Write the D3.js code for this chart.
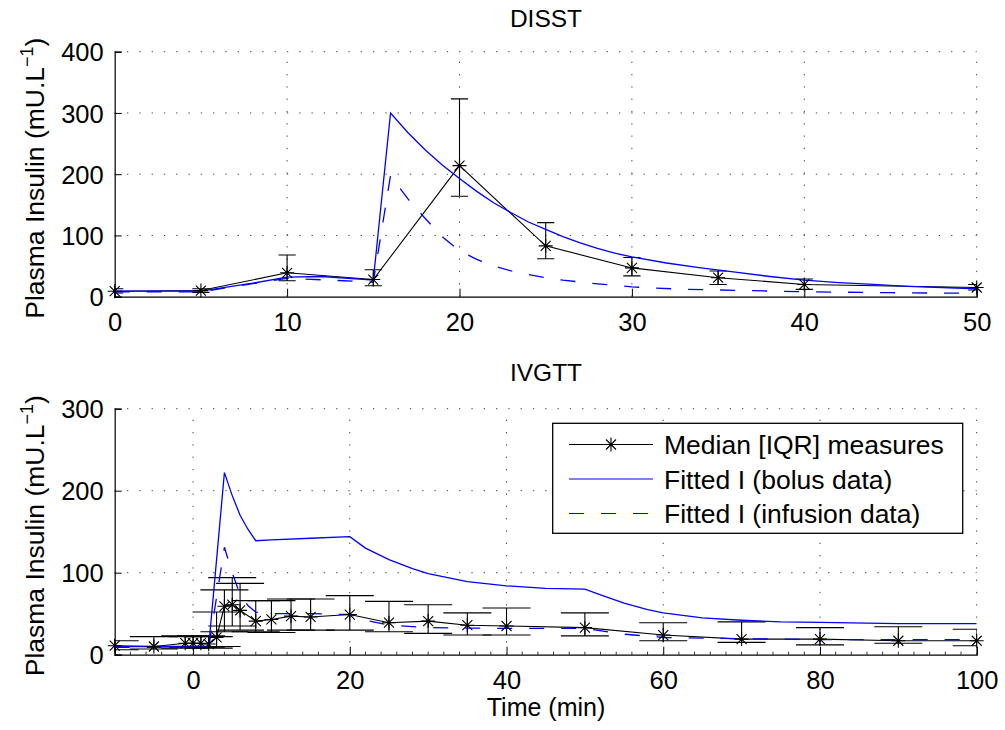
<!DOCTYPE html>
<html>
<head>
<meta charset="utf-8">
<script src="https://cdn.jsdelivr.net/npm/d3@7"></script>
<style>
  body { margin: 0; background: #fff; }
  svg { font-family: "Liberation Sans", Arial, Helvetica, sans-serif; }
</style>
</head>
<body>
<div id="chart"></div>
<script>
// ---- DISST panel ----
const disstTime   = [0, 5, 10, 15, 20, 25, 30, 35, 40, 50];
const disstMedian = [9, 10, 39, 28, 214, 83, 47, 31, 20, 15];
const disstLow    = [6, 7, 26, 18, 164, 62, 34, 20, 12, 11];
const disstHigh   = [13, 13, 68, 44, 323, 121, 64, 42, 29, 20];

const disstBolusTime = [0, 5, 8, 10, 12, 15, 16, 17, 18, 19, 20, 21, 22, 23, 24, 25, 26, 27, 28, 29, 30, 32, 34, 36, 38, 40, 42, 44, 46, 48, 50];
const disstBolus     = [9, 9, 22, 32, 33, 27, 300, 268, 240, 215, 193, 172, 153, 137, 122, 110, 98, 88, 79, 71, 65, 55, 47, 40, 33, 27, 23, 20, 17, 15, 13];

const disstInfTime = [0, 5, 10, 15, 16, 17, 18, 19, 20, 21, 22, 23, 24, 25, 26, 28, 30, 33, 35, 40, 45, 50];
const disstInf     = [8, 8, 30, 24, 198, 160, 128, 98, 75, 61, 50, 42, 36, 31, 27, 21, 16, 12, 11, 8, 6.5, 5.5];

// ---- IVGTT panel ----
const ivgttTime   = [-10, -5, -1, 0, 1, 2, 3, 4, 5, 6, 8, 10, 12.5, 15, 20, 25, 30, 35, 40, 50, 60, 70, 80, 90, 100];
const ivgttMedian = [11, 10, 14, 14, 14, 13, 21, 59, 61, 54, 41, 43, 47, 46, 49, 39, 41, 36, 35, 33, 24, 19, 19, 17, 17];
const ivgttLow    = [6, 7, 8, 9, 9, 8, 10, 28, 35, 30, 28, 27, 30, 30, 30, 28, 26, 24, 24, 23, 17, 15, 12, 14, 11];
const ivgttHigh   = [17, 22, 23, 22, 23, 22, 52, 79, 94, 87, 66, 66, 68, 68, 72, 65, 61, 51, 57, 51, 39, 40, 33, 34, 31];

const ivgttBolusTime = [-10, -5, 0, 1, 2, 4, 5, 6, 7, 8, 10, 15, 20, 22, 25, 28, 30, 35, 40, 45, 50, 52, 55, 58, 60, 65, 70, 75, 80, 90, 100];
const ivgttBolus     = [10, 10, 10, 10, 10, 222, 194, 170, 153, 139, 140, 142, 144, 130, 116, 105, 99, 89, 84, 81, 80, 73, 63, 55, 51, 45, 42, 40, 39.5, 38, 38];

const ivgttInfTime = [-10, -5, 0, 1, 2, 4, 5, 6, 7, 8, 10, 15, 20, 22, 25, 30, 40, 50, 55, 60, 70, 80, 90, 100];
const ivgttInf     = [9, 9, 9, 9, 9, 131, 100, 73, 60, 52, 50, 50, 49, 42, 36, 33, 32, 32, 25, 21, 19.5, 18.5, 18.5, 18.5];

const legendLabels = ["Median [IQR] measures", "Fitted I (bolus data)", "Fitted I (infusion data)"];

const W = 1005, H = 730;
const blue = "#0000ff";
const starPath = "M-7,0H7M0,-7V7M-5,-5L5,5M-5,5L5,-5";

const svg = d3.select("#chart").append("svg")
    .attr("width", W)
    .attr("height", H);

function drawPanel(cfg) {
    const x = d3.scaleLinear().domain(cfg.xDomain).range([114.7, 976.7]);
    const y = d3.scaleLinear().domain(cfg.yDomain).range([cfg.bottom, cfg.top]);
    const g = svg.append("g");

    const clipId = "clip-" + cfg.id;
    svg.append("clipPath").attr("id", clipId)
        .append("rect")
        .attr("x", x.range()[0]).attr("y", cfg.top)
        .attr("width", x.range()[1] - x.range()[0])
        .attr("height", cfg.bottom - cfg.top);

    // dotted grid
    g.selectAll(".vgrid")
        .data(cfg.xTicks.filter(d => d !== cfg.xDomain[0]))
        .join("line")
        .attr("x1", d => x(d)).attr("x2", d => x(d))
        .attr("y1", cfg.bottom).attr("y2", cfg.top)
        .attr("stroke", "#444").attr("stroke-width", 1)
        .attr("stroke-dasharray", "1.3 11");
    g.selectAll(".hgrid")
        .data(cfg.yTicks.filter(d => d !== cfg.yDomain[0]))
        .join("line")
        .attr("x1", x.range()[0]).attr("x2", x.range()[1])
        .attr("y1", d => y(d)).attr("y2", d => y(d))
        .attr("stroke", "#444").attr("stroke-width", 1)
        .attr("stroke-dasharray", "1.3 11");

    // axes (ticks pointing inward)
    const xAxis = d3.axisBottom(x).tickValues(cfg.xTicks).tickSize(-8).tickPadding(16)
        .tickFormat(d => d === cfg.xDomain[0] && cfg.hideFirstX ? "" : d);
    const yAxis = d3.axisLeft(y).tickValues(cfg.yTicks).tickSize(-7).tickPadding(11);

    const gx = g.append("g").attr("transform", `translate(0,${cfg.bottom})`).call(xAxis);
    const gy = g.append("g").attr("transform", `translate(${x.range()[0]},0)`).call(yAxis);
    [gx, gy].forEach(a => {
        a.select(".domain").attr("stroke", "#000").attr("stroke-width", 1.2);
        a.selectAll(".tick line").attr("stroke", "#000");
        a.selectAll(".tick text").attr("fill", "#000").attr("font-size", 25.5);
    });
    gx.selectAll(".tick text").attr("dy", "0.71em");
    gy.selectAll(".tick text").attr("dy", "0.36em");

    if (cfg.minorX) {
        g.selectAll(".minor")
            .data(cfg.minorX)
            .join("line")
            .attr("x1", d => x(d)).attr("x2", d => x(d))
            .attr("y1", cfg.bottom).attr("y2", cfg.bottom - 3)
            .attr("stroke", "#000").attr("stroke-width", 0.8);
    }

    const plot = g.append("g").attr("clip-path", `url(#${clipId})`);

    const line = d3.line().x(d => x(d[0])).y(d => y(d[1]));

    // error bars
    const meas = cfg.time.map((t, i) => ({ t, m: cfg.median[i], lo: cfg.low[i], hi: cfg.high[i] }));
    const cap = cfg.capHalf;
    plot.selectAll(".ebar")
        .data(meas)
        .join("path")
        .attr("d", d => `M${x(d.t)},${y(d.lo)}V${y(d.hi)}` +
            `M${x(d.t) - cap},${y(d.lo)}H${x(d.t) + cap}` +
            `M${x(d.t) - cap},${y(d.hi)}H${x(d.t) + cap}`)
        .attr("fill", "none").attr("stroke", "#000").attr("stroke-width", 1.1);

    plot.append("path")
        .attr("d", line(cfg.time.map((t, i) => [t, cfg.median[i]])))
        .attr("fill", "none").attr("stroke", "#000").attr("stroke-width", 1.1);

    plot.append("path")
        .attr("d", line(cfg.bolusTime.map((t, i) => [t, cfg.bolus[i]])))
        .attr("fill", "none").attr("stroke", blue).attr("stroke-width", 1.3);

    plot.append("path")
        .attr("d", line(cfg.infTime.map((t, i) => [t, cfg.inf[i]])))
        .attr("fill", "none").attr("stroke", blue).attr("stroke-width", 1.3)
        .attr("stroke-dasharray", "15 17");

    g.selectAll(".star")
        .data(meas)
        .join("path")
        .attr("transform", d => `translate(${x(d.t)},${y(d.m)})`)
        .attr("d", starPath)
        .attr("fill", "none").attr("stroke", "#000").attr("stroke-width", 1.1);

    // title and y label
    g.append("text")
        .attr("x", 546).attr("y", cfg.titleY)
        .attr("text-anchor", "middle").attr("font-size", 24.5)
        .text(cfg.title);

    const yl = g.append("text")
        .attr("transform", `translate(44,${(cfg.top + cfg.bottom) / 2 + 4}) rotate(-90)`)
        .attr("text-anchor", "middle").attr("font-size", 26.5);
    yl.append("tspan").text("Plasma Insulin (mU.L");
    yl.append("tspan").attr("font-size", 18).attr("dy", -11).text("\u22121");
    yl.append("tspan").attr("dy", 11).text(")");

    return { x, y, g };
}

drawPanel({
    id: "disst", title: "DISST", titleY: 27,
    top: 51.7, bottom: 296.7,
    xDomain: [0, 50], yDomain: [0, 400],
    xTicks: [0, 10, 20, 30, 40, 50], yTicks: [0, 100, 200, 300, 400],
    capHalf: 8.6,
    time: disstTime, median: disstMedian, low: disstLow, high: disstHigh,
    bolusTime: disstBolusTime, bolus: disstBolus,
    infTime: disstInfTime, inf: disstInf
});

const minorTicks = d3.range(-8, 100, 2).filter(d => d % 20 !== 0);

drawPanel({
    id: "ivgtt", title: "IVGTT", titleY: 381,
    top: 408.7, bottom: 654.7,
    xDomain: [-10, 100], yDomain: [0, 300],
    xTicks: [-10, 0, 20, 40, 60, 80, 100], yTicks: [0, 100, 200, 300],
    hideFirstX: true, minorX: minorTicks,
    capHalf: 24,
    time: ivgttTime, median: ivgttMedian, low: ivgttLow, high: ivgttHigh,
    bolusTime: ivgttBolusTime, bolus: ivgttBolus,
    infTime: ivgttInfTime, inf: ivgttInf
});

svg.append("text")
    .attr("x", 546).attr("y", 716)
    .attr("text-anchor", "middle").attr("font-size", 25)
    .text("Time (min)");

// legend
const lg = svg.append("g");
lg.append("rect")
    .attr("x", 552.7).attr("y", 423.3).attr("width", 410).attr("height", 110)
    .attr("fill", "#fff").attr("stroke", "#000").attr("stroke-width", 1.3);
const rowY = [444.5, 479, 513.5];
const legendStyles = [
    { stroke: "#000", dash: null },
    { stroke: blue, dash: null },
    { stroke: blue, dash: "15 17" }
];
legendLabels.forEach((lab, i) => {
    lg.append("line")
        .attr("x1", 569).attr("x2", 653)
        .attr("y1", rowY[i]).attr("y2", rowY[i])
        .attr("stroke", legendStyles[i].stroke).attr("stroke-width", 1.2)
        .attr("stroke-dasharray", legendStyles[i].dash);
    lg.append("text")
        .attr("x", 664).attr("y", rowY[i]).attr("dy", "0.36em")
        .attr("font-size", 26.5)
        .text(lab);
});
lg.append("path")
    .attr("transform", `translate(611,${rowY[0]})`)
    .attr("d", starPath)
    .attr("fill", "none").attr("stroke", "#000").attr("stroke-width", 1.1);
</script>
</body>
</html>
